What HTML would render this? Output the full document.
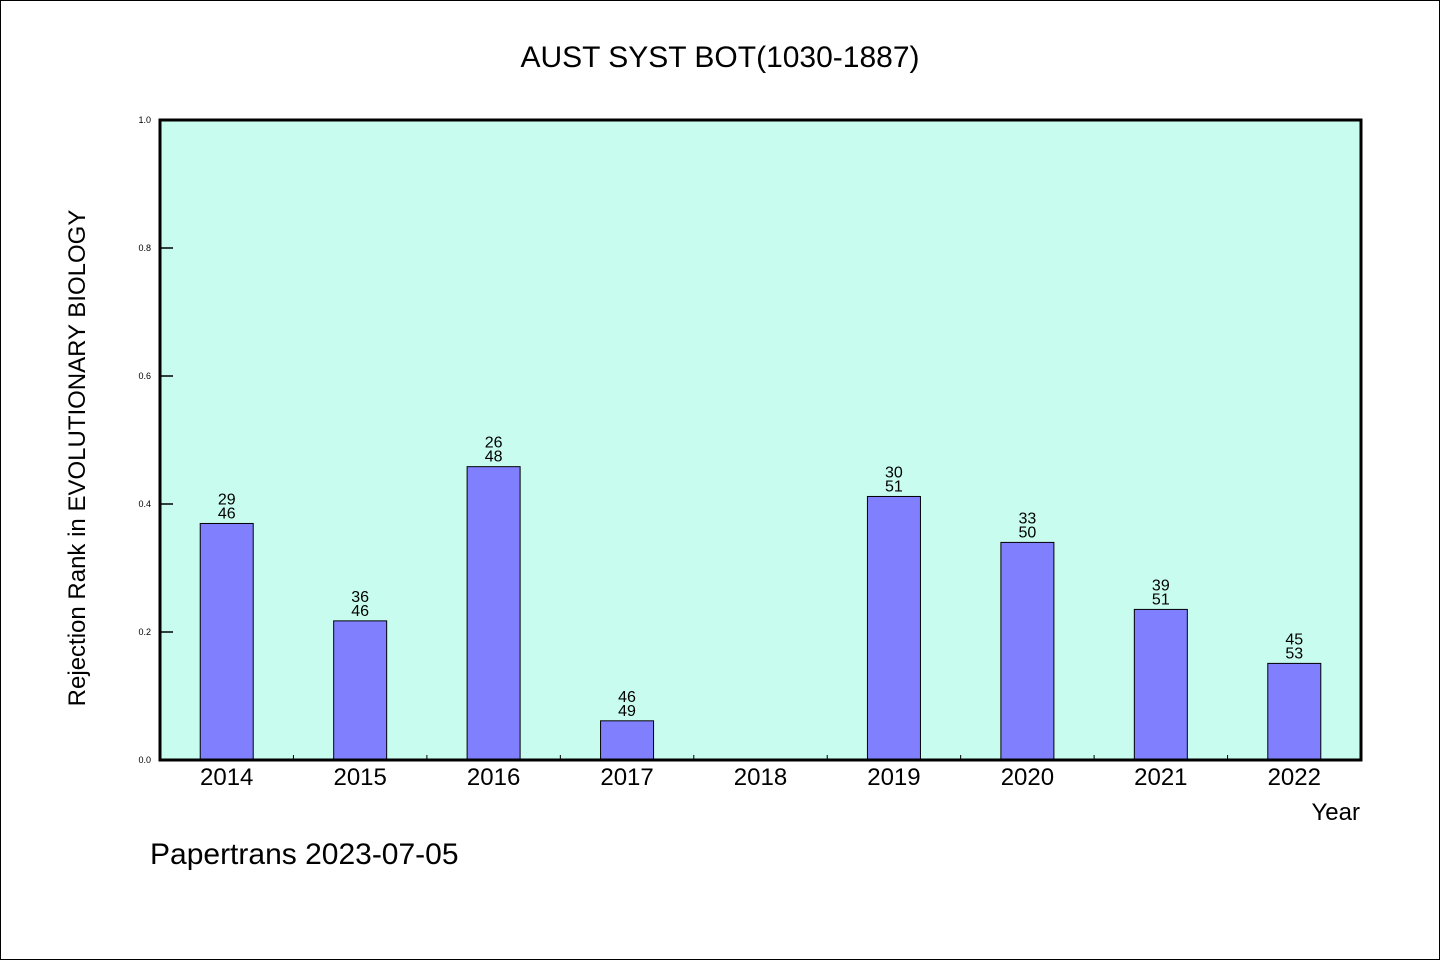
<!DOCTYPE html>
<html><head><meta charset="utf-8"><style>
html,body{margin:0;padding:0;background:#fff;}
body{width:1440px;height:960px;overflow:hidden;}
svg text{font-family:"WenQuanYi Zen Hei","Liberation Sans",sans-serif;fill:#000;}
</style></head><body>
<svg id="chart" width="1440" height="960" xmlns="http://www.w3.org/2000/svg">
<rect x="0.5" y="0.5" width="1439" height="959" fill="#fff" stroke="#000" stroke-width="1"/>
<text x="720" y="67" font-size="30" text-anchor="middle">AUST SYST BOT(1030-1887)</text>
<rect x="160" y="120" width="1201" height="640" fill="#c8fcee"/>
<g id="ticks"></g>
<g id="bars"></g>
<rect x="160" y="120" width="1201" height="640" fill="none" stroke="#000" stroke-width="3"/>
<text transform="translate(85,458) rotate(-90)" font-size="24" text-anchor="middle">Rejection Rank in EVOLUTIONARY BIOLOGY</text>
<text x="1360" y="820" font-size="24" text-anchor="end">Year</text>
<text x="150" y="864" font-size="30">Papertrans 2023-07-05</text>
</svg>
<script>
const categories=["2014","2015","2016","2017","2018","2019","2020","2021","2022"];
const topLabels=[29,36,26,46,null,30,33,39,45];
const bottomLabels=[46,46,48,49,null,51,50,51,53];
const yTicks=[0,0.2,0.4,0.6,0.8,1.0];
const NS="http://www.w3.org/2000/svg";
const L=160,R=1361,T=120,B=760;
const step=(R-L)/categories.length;
function xC(i){return L+step*(i+0.5);}
function y(v){return B-(B-T)*v;}
const tg=document.getElementById('ticks'),bg=document.getElementById('bars');
function mk(tag,at,parent){const e=document.createElementNS(NS,tag);for(const k in at)e.setAttribute(k,at[k]);parent.appendChild(e);return e;}
yTicks.forEach(t=>{
  const ln=mk('line',{x1:L,x2:L+13,y1:y(t),y2:y(t),stroke:'#000','stroke-width':1.5},tg);
  
  
  const tx=mk('text',{x:151,y:y(t)+3,'font-size':9,'text-anchor':'end'},tg);
  tx.textContent=t.toFixed(1);
  
  
});
for(let i=1;i<categories.length;i++){
  const ln=mk('line',{x1:L+step*i,x2:L+step*i,y1:B,y2:B-5,stroke:'#000','stroke-width':1},tg);
  
  
}
categories.forEach((c,i)=>{
  const tx=mk('text',{x:xC(i),y:785,'font-size':24,'text-anchor':'middle'},tg);
  tx.textContent=c;
  
  
  if(topLabels[i]==null)return;
  const v=1-topLabels[i]/bottomLabels[i];
  const r=mk('rect',{x:xC(i)-26.5,y:y(v),width:53,height:B-y(v),fill:'#8080ff',stroke:'#000','stroke-width':1},bg);
  
  
  const a=mk('text',{x:xC(i),y:y(v)-19,'font-size':16,'text-anchor':'middle'},bg);
  a.textContent=topLabels[i];
  
  
  const b=mk('text',{x:xC(i),y:y(v)-5,'font-size':16,'text-anchor':'middle'},bg);
  b.textContent=bottomLabels[i];
  
  
});
</script>
</body></html>
